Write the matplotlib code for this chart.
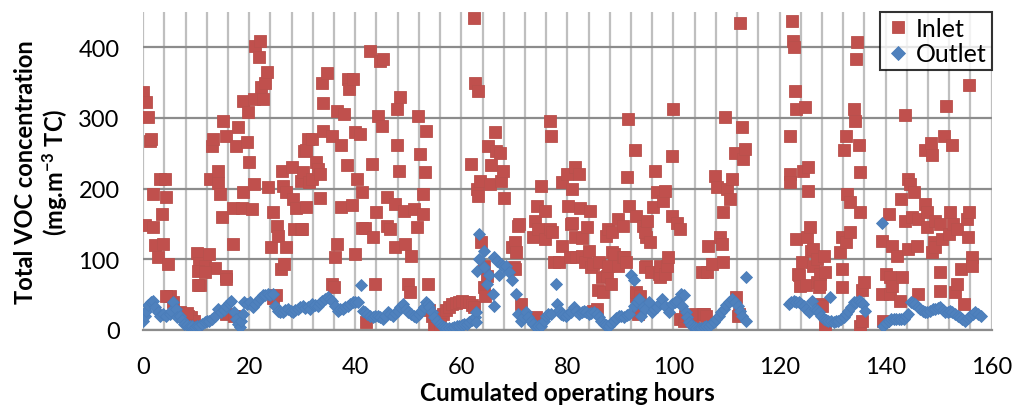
import matplotlib
matplotlib.use("Agg")
import matplotlib.pyplot as plt
import numpy as np

# ----------------------
# DATA (hours, mg.m-3 TC)
# ----------------------
inlet_h = [
    0.0, 0.6, 0.9, 1.3, 1.5, 0.3, 1.8, 1.9, 2.2, 2.9, 3.1, 4.1, 3.5, 3.8, 4.4, 4.7, 5.0, 5.7,
    6.9, 8.5, 9.1, 9.6, 4.3, 7.8, 8.3,
    10.2, 10.5, 10.8, 11.7, 12.4, 13.6, 15.7, 12.6, 12.9, 13.2, 14.2, 14.2, 14.5, 14.8, 15.1,
    15.7, 17.0, 17.0, 17.6, 17.9, 18.6, 18.9, 18.9, 19.5, 19.8, 20.0, 20.5, 20.9, 10.3, 15.7,
    11.6, 10.4, 15.6, 17.2, 9.9,
    21.0, 21.1, 21.9, 22.0, 22.3, 22.6, 23.0, 23.3, 23.6, 24.2, 24.5, 25.1, 25.2, 25.5, 26.0,
    26.1, 26.3, 26.6, 27.0, 27.0, 28.0, 28.2, 28.5, 28.8, 29.8, 29.8, 30.4, 31.0, 24.5,
    29.9, 30.2, 30.8, 30.8, 31.2, 31.8, 31.9, 32.6, 32.9, 33.3, 33.3, 33.7, 34.0, 34.0, 34.6,
    35.6, 35.6, 36.0, 36.2, 36.5, 36.5, 37.3, 37.4, 37.8, 38.4, 38.6, 38.8, 39.4, 39.5, 40.0,
    40.0, 40.3, 40.9, 41.2, 41.2, 41.8, 42.0, 42.8, 43.1, 43.4, 43.7, 44.0, 44.3, 44.6, 45.1,
    45.2, 45.9, 45.9, 46.6, 47.5, 47.5, 47.8, 47.8, 48.3, 48.4, 49.1, 49.3, 49.9, 50.3, 50.6,
    51.0, 51.6, 51.9, 52.2, 52.7, 52.8, 53.2, 53.3, 53.8,
    53.9, 54.4, 54.8, 55.3, 55.8, 56.5, 57.1, 57.7, 58.3, 59.0, 59.6, 60.2, 60.8, 61.5, 62.1,
    55.0, 56.0,
    61.9, 62.3, 62.3, 62.6, 62.9, 63.2, 63.2, 63.5, 63.7, 64.2, 64.3, 64.5, 64.8, 65.0, 65.4,
    65.6, 66.3, 66.6, 67.2, 67.5, 67.8, 68.1, 69.6, 69.9, 70.1, 70.1, 70.4, 70.7, 70.9, 71.3,
    74.0, 73.5, 73.8, 74.2, 74.4, 75.1, 75.7, 75.8, 76.7, 76.8, 77.0, 77.1, 77.4, 78.4, 78.9,
    78.9, 79.9, 80.2, 80.5, 80.6, 80.8, 80.8, 81.4, 81.5, 81.6, 82.1, 82.4, 82.7, 82.7, 83.3,
    83.7, 84.1, 84.3, 84.5, 84.8, 84.8, 85.6, 85.7, 86.0, 86.6, 86.7, 87.3, 87.4, 87.6, 87.6,
    88.3, 88.5, 88.5, 88.8, 89.5, 89.5, 90.4, 90.4, 90.7, 91.0, 91.2, 91.5, 91.7, 92.8, 92.9,
    93.0, 93.0, 93.3, 94.2, 94.8, 94.8,
    93.7, 94.6, 94.6, 95.0, 95.6, 95.8, 96.2, 96.6, 96.9, 97.2, 97.4, 97.5, 98.1, 98.4, 98.5,
    98.7, 99.0, 99.7, 99.8, 100.0, 100.6, 101.2, 101.3, 102.0, 102.2, 103.6, 104.1, 105.4,
    105.5, 105.7, 106.1, 106.3, 106.6, 107.3, 107.9, 108.2, 108.8, 109.1, 109.4, 109.4, 109.8,
    110.1, 110.7, 111.1, 111.6, 111.7, 112.1, 112.4, 112.6, 112.9, 113.2, 113.5,
    122.0, 122.0, 122.0, 122.3, 122.5, 122.8, 122.9, 123.1, 123.2, 123.5, 123.7, 123.8, 124.2,
    124.5, 124.8, 125.0, 125.1, 125.4, 125.4, 125.7, 126.0, 126.4, 126.4, 127.0, 127.0, 127.4,
    127.7, 127.7, 127.7, 128.3, 128.6, 128.0, 128.5,
    131.4, 131.7, 131.7, 131.7, 132.2, 132.5, 132.6, 132.7, 133.2, 133.3, 134.0, 134.3, 134.5,
    134.6, 134.9, 135.1, 135.2, 135.2, 135.5, 135.5, 135.9, 139.3, 139.3, 139.6, 140.0, 140.6,
    140.9, 140.9, 141.2, 141.2, 142.2, 142.7, 143.0, 143.1, 143.6, 143.7, 144.3, 144.3, 144.6,
    145.0, 145.3, 145.9, 146.1, 146.2, 147.4, 147.5, 147.8, 147.8, 148.5, 148.8, 148.8, 149.1,
    149.4, 149.4, 150.3, 150.3, 150.3, 150.6, 151.0, 151.3, 151.9, 152.2, 152.5, 152.8, 153.1,
    153.4, 153.5, 154.3, 154.7, 155.3, 155.6, 155.7, 155.8, 156.2, 156.2,
]
inlet_v = [
    337, 322, 302, 268, 270, 148, 145, 192, 120, 103, 214, 214, 164, 122, 188, 93, 48, 40,
    25, 20, 18, 12, 48, 22, 24,
    109, 95, 64, 90, 107, 87, 76, 214, 261, 270, 225, 208, 192, 160, 296,
    275, 122, 172, 260, 287, 173, 195, 324, 266, 308, 237, 171, 206, 84, 72,
    82, 63, 22, 20, 4,
    327, 402, 386, 409, 344, 327, 350, 365, 202, 117, 167, 49, 147, 133, 86,
    225, 204, 93, 117, 195, 230, 185, 143, 173, 143, 211, 253, 270, 45,
    143, 223, 174, 254, 209, 270, 214, 237, 228, 221, 187, 350, 321, 282, 364,
    275, 65, 61, 103, 122, 310, 174, 262, 305, 233, 355, 341, 177, 355, 280,
    107, 214, 277, 195, 144, 144, 11, 395, 235, 131, 65, 167, 303, 380, 288,
    383, 188, 147, 143, 178, 117, 312, 262, 225, 329, 168, 122, 65, 54, 105,
    171, 146, 303, 249, 192, 164, 224, 281, 65,
    28, 20, 5, 12, 18, 22, 28, 33, 36, 38, 40, 41, 40, 39, 35,
    3, 8,
    235, 442, 32, 350, 200, 338, 190, 211, 124, 91, 61, 48, 76, 261, 207,
    233, 280, 253, 251, 211, 225, 187, 117, 89, 124, 86, 110, 147, 150, 37,
    18, 131, 154, 176, 143, 204, 129, 169, 296, 143, 275, 138, 96, 96, 209,
    119, 221, 176, 103, 150, 199, 152, 131, 231, 103, 221, 173, 130, 105, 96,
    146, 112, 169, 89, 93, 27, 30, 56, 96, 75, 54, 133, 76, 143, 91,
    65, 138, 110, 107, 157, 91, 147, 103, 103, 96, 216, 299, 176, 254, 48,
    161, 54, 22, 147, 131, 91,
    48, 138, 89, 154, 124, 82, 174, 225, 195, 79, 75, 91, 182, 197, 79,
    91, 103, 161, 246, 312, 152, 143, 16, 13, 20, 18, 23, 82,
    22, 23, 20, 82, 119, 93, 218, 202, 131, 122, 96, 167, 301,
    199, 185, 214, 251, 46, 20, 23, 435, 287, 242, 256,
    275, 221, 209, 437, 409, 400, 338, 313, 129, 79, 77, 62, 96,
    225, 315, 63, 131, 230, 197, 146, 112, 91, 115, 100, 68, 61,
    65, 79, 37, 105, 82, 34, 6,
    110, 131, 86, 61, 254, 275, 124, 192, 181, 138, 312, 296, 384,
    407, 262, 167, 224, 6, 13, 57, 68, 126, 51, 13, 79, 164,
    75, 51, 119, 62, 105, 41, 185, 75, 304, 154, 214, 115, 207,
    160, 195, 119, 51, 157, 178, 254, 167, 146, 265, 248, 110, 124,
    154, 117, 150, 82, 55, 129, 275, 317, 136, 167, 262, 150, 54,
    143, 65, 86, 37, 157, 131, 347, 167, 103, 91,
]

outlet_h = [
    0.0, 0.3, 0.6, 1.0, 1.5, 1.8, 2.2, 2.8, 3.2, 3.7, 4.3, 5.0, 5.35, 5.6, 6.2, 6.3, 6.9, 7.3,
    7.8, 8.3, 8.8, 9.2, 9.7, 10.2, 10.6, 11.1, 11.6, 12.0, 12.5, 13.0, 13.5, 14.1, 14.7, 15.2,
    15.7, 16.2, 16.6, 17.2, 17.6, 17.9, 18.2, 18.5, 18.8, 19.1, 19.6, 20.1, 20.7, 21.1, 21.6,
    22.1, 22.6, 23.0, 23.5, 24.0, 24.5, 24.8, 25.4, 25.9, 26.4, 26.8, 27.3, 27.8, 28.2, 28.7,
    29.2, 29.6, 30.1, 30.6, 31.1,
    31.5, 31.9, 32.4, 32.9, 33.3, 33.8, 34.3, 34.8, 35.2, 35.7, 36.2, 36.7, 37.1, 37.6, 38.1,
    38.6, 39.0, 39.5, 40.0, 40.5, 41.1, 41.4, 41.8, 42.3, 42.8, 43.3, 43.7, 44.2, 44.7, 45.2,
    45.6, 46.1, 46.6, 47.1, 47.5, 48.0, 48.5, 49.0, 49.6, 50.0, 50.5, 51.0, 51.5, 52.0, 52.4,
    52.9, 53.3, 53.7, 54.0, 54.5, 54.9, 55.4, 55.9, 56.3, 56.8, 57.2, 57.7, 58.2, 58.7, 59.1,
    59.6, 60.1, 60.6, 61.0, 61.5, 62.0, 62.5,
    62.7, 62.7, 63.0, 63.3, 63.3, 64.3, 64.3, 64.9, 65.2, 65.9, 66.2, 66.2, 66.8, 67.1, 67.4,
    67.9, 68.4, 69.0, 69.6, 70.3, 70.6, 71.2, 71.7, 72.2, 72.6, 73.1, 73.5, 74.0, 74.5, 75.0,
    75.5, 75.9, 76.4, 76.9, 77.8, 78.1, 78.4, 78.8, 79.2, 79.7, 80.2, 80.6, 81.3, 81.7, 82.2,
    82.7, 83.2, 83.6, 84.1, 84.5, 85.0, 85.5, 86.0, 86.4, 86.9, 87.3, 87.8, 88.3, 88.8, 89.2,
    89.7, 90.2, 90.7, 91.2, 91.6, 92.0, 92.6, 92.6, 93.1, 93.5, 93.8, 94.2,
    94.7, 95.3, 95.9, 96.4, 96.9, 97.4, 97.8, 98.5, 99.1, 99.7, 100.2, 100.7, 101.4, 101.7,
    102.0, 102.3, 102.6, 102.9, 103.4, 103.8, 104.3, 104.8, 105.2, 105.7, 106.2, 106.7, 107.1,
    107.6, 108.1, 108.6, 109.0, 109.5, 110.0, 110.5, 111.1, 111.6, 112.1, 112.5, 113.0, 113.6,
    113.6,
    121.8, 122.2, 122.7, 123.2, 123.7, 124.1, 124.6, 125.0, 125.5, 126.1, 126.7, 127.0, 127.4,
    127.8, 128.3, 128.7, 129.2, 129.6, 129.7, 130.2, 130.6, 131.1, 131.6, 132.1, 132.5, 133.0,
    133.5, 134.0, 134.5, 134.9, 135.4, 135.8, 136.2,
    139.3, 139.6, 140.1, 140.6, 141.0, 141.5, 142.0, 142.5, 143.0, 143.4, 143.9, 144.3, 144.7,
    145.2, 145.6, 146.1, 146.5, 147.0, 147.5, 147.9, 148.4, 148.9, 149.4, 149.8, 150.3, 150.8,
    151.2, 151.7, 152.2, 152.6, 153.1, 153.6, 154.1, 154.5, 155.0, 155.5, 156.0, 156.4, 156.9,
    157.4, 157.9,
]
outlet_v = [
    13, 20, 27, 35, 39, 41, 33, 25, 20, 23, 20, 23, 27, 39, 30, 18, 20, 14,
    8, 7, 6, 5, 4, 5, 6, 9, 11, 12, 13, 16, 20, 30, 25, 28,
    34, 38, 41, 25, 15, 8, 4, 13, 23, 39, 37, 39, 32, 36, 41,
    45, 49, 50, 51, 50, 51, 34, 27, 26, 25, 28, 30, 27, 25, 28,
    30, 32, 34, 31, 32,
    30, 37, 35, 34, 38, 41, 44, 46, 44, 41, 34, 27, 29, 30, 32,
    34, 36, 39, 39, 39, 63, 27, 25, 23, 20, 18, 19, 20, 18, 16,
    20, 25, 22, 20, 24, 27, 32, 37, 30, 26, 23, 20, 18, 22, 27,
    33, 39, 36, 32, 25, 18, 12, 8, 6, 4, 3, 2, 3, 4, 5,
    6, 7, 8, 9, 11, 14, 18,
    25, 11, 84, 136, 100, 112, 89, 65, 77, 51, 103, 34, 98, 77, 93,
    90, 91, 82, 70, 51, 23, 13, 18, 25, 18, 13, 8, 4, 5, 6,
    13, 20, 22, 23, 65, 37, 28, 23, 21, 20, 23, 25, 32, 27, 23,
    25, 27, 25, 23, 24, 25, 22, 18, 12, 8, 7, 6, 10, 13, 17,
    20, 19, 18, 21, 23, 77, 70, 34, 40, 44, 20, 32,
    30, 39, 25, 30, 32, 38, 44, 34, 25, 37, 40, 41, 51, 34,
    49, 25, 18, 11, 7, 4, 2, 2, 3, 4, 5, 6, 8,
    11, 15, 20, 25, 30, 35, 39, 44, 39, 34, 27, 20, 13,
    75,
    37, 40, 41, 40, 39, 36, 34, 30, 25, 41, 30, 28, 25,
    20, 16, 14, 13, 46, 12, 11, 12, 13, 15, 18, 22, 27,
    33, 39, 40, 41, 39, 37, 27,
    152, 6, 10, 13, 15, 16, 16, 16, 16, 16, 20, 23, 39,
    38, 37, 33, 30, 27, 25, 26, 27, 29, 30, 31, 32, 28,
    25, 26, 27, 25, 23, 20, 18, 15, 13, 17, 20, 23, 25,
    22, 20,
]

x_major = [0, 20, 40, 60, 80, 100, 120, 140, 160]
y_major = [0, 100, 200, 300, 400]

# ----------------------
# STYLE
# ----------------------
plt.rcParams["font.family"] = ["Lato", "DejaVu Sans"]
plt.rcParams["mathtext.fontset"] = "custom"
plt.rcParams["mathtext.rm"] = "Lato"
plt.rcParams["mathtext.bf"] = "Lato:bold"

red = "#C0504D"
blue = "#4F81BD"

fig = plt.figure(figsize=(10.15, 4.06), dpi=100)
ax = fig.add_axes([0.141, 0.185, 0.836, 0.783])

ax.plot(inlet_h, inlet_v, linestyle="none", marker="s", markersize=8.5,
        color=red, markeredgecolor="#B9504C", markeredgewidth=0.6, label="Inlet", zorder=3)
ax.plot(outlet_h, outlet_v, linestyle="none", marker="D", markersize=6.4,
        color=blue, markeredgecolor="#4A7DBA", markeredgewidth=0.6, label="Outlet", zorder=4)

ax.set_xlim(0, 160)
ax.set_ylim(0, 450)
ax.set_xticks(x_major)
ax.set_yticks(y_major)
ax.set_xticks(np.arange(0, 161, 4), minor=True)

ax.grid(True, axis="x", which="both", color="#BFBFBF", linewidth=1.6, zorder=0)
ax.grid(True, axis="y", which="major", color="#8C8C8C", linewidth=1.6, zorder=0)
ax.set_axisbelow(True)

for side in ["top", "right", "left"]:
    ax.spines[side].set_visible(False)
ax.spines["bottom"].set_color("#8C8C8C")
ax.spines["bottom"].set_linewidth(1.6)

ax.tick_params(axis="both", which="both", length=0, labelsize=17, colors="black")
ax.tick_params(axis="x", pad=19)
ax.tick_params(axis="y", pad=17)

ax.set_xlabel("Cumulated operating hours", fontsize=17.5, fontweight="bold", labelpad=3)
ax.set_ylabel("Total VOC concentration\n(mg.m$\\mathbf{^{-3}}$ TC)", fontsize=17,
              fontweight="bold", labelpad=6, linespacing=1.15)

leg = ax.legend(loc="upper right", fontsize=18, frameon=True, fancybox=False,
                borderaxespad=0, handletextpad=0.15, borderpad=0.2, labelspacing=0.1,
                handlelength=1.1, markerscale=1.1)
leg.get_frame().set_edgecolor("black")
leg.get_frame().set_linewidth(1.5)
leg.set_zorder(10)

fig.savefig("out.png", dpi=100)
